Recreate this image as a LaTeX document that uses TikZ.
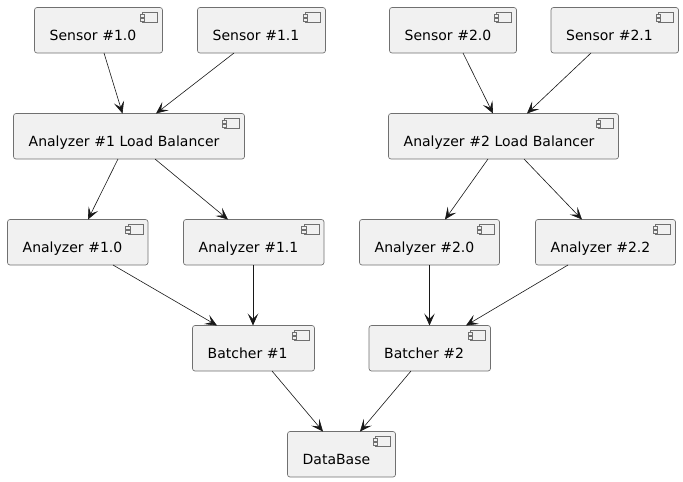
\documentclass[tikz,border=0pt]{standalone}
\usepackage{fontspec}
\setmainfont{DejaVu Sans}
\usetikzlibrary{arrows.meta,calc}
\definecolor{boxfill}{HTML}{F1F1F1}
\definecolor{linecol}{HTML}{181818}
\tikzset{
  compbox/.style={draw=linecol!62!white,fill=boxfill,line width=0.65pt,rounded corners=2.5pt,
    inner xsep=15.2pt,inner ysep=0pt,outer sep=0pt,anchor=north west,
    text height=32.5pt,text depth=13pt,
    font=\fontsize{14}{16}\selectfont,text=black},
  iconmain/.style={draw=linecol!62!white,fill=boxfill,line width=0.55pt},
  conn/.style={draw=linecol,line width=0.6pt,-{Stealth[length=12pt,width=10.5pt,inset=5.5pt]}}
}
\newcommand{\comp}[6]{%
  \node[compbox,text width=#4pt-30.4pt] (#1) at (#2,#3) {\mbox{#6}};
  \draw[iconmain] ($(#1.north east)+(-20,5)$) rectangle ($(#1.north east)+(-5,15)$);
  \draw[iconmain] ($(#1.north east)+(-22.5,7)$) rectangle ($(#1.north east)+(-18,9.5)$);
  \draw[iconmain] ($(#1.north east)+(-22.5,11)$) rectangle ($(#1.north east)+(-18,13.5)$);
}
% from node, offset along bottom edge; to node, offset along top edge
\newcommand{\link}[4]{\draw[conn] ($(#1.south west)+(#2,0)$) -- ($(#3.north west)+(#4,0)$);}
\begin{document}
\begin{tikzpicture}[x=1pt,y=-1pt]
\useasboundingbox (0,0) rectangle (683,482);
\fill[white] (0,0) rectangle (683,482);
\comp{sa}{34.5}{7.5}{128}{45.5}{Sensor \#1.0}
\comp{sb}{197.5}{7.5}{128}{45.5}{Sensor \#1.1}
\comp{sc}{389.5}{7.5}{127}{45.5}{Sensor \#2.0}
\comp{sd}{551}{7.5}{127.5}{45.5}{Sensor \#2.1}
\comp{lba}{13.5}{113.5}{231}{45.5}{Analyzer \#1 Load Balancer}
\comp{lbb}{388.5}{113.5}{230}{45.5}{Analyzer \#2 Load Balancer}
\comp{aa}{7.5}{219.5}{140.5}{45.5}{Analyzer \#1.0}
\comp{ab}{183.5}{219.5}{140.5}{45.5}{Analyzer \#1.1}
\comp{ac}{359.5}{219.5}{140}{45.5}{Analyzer \#2.0}
\comp{ad}{535.5}{219.5}{140}{45.5}{Analyzer \#2.2}
\comp{ba}{192.5}{325.5}{122}{45.5}{Batcher \#1}
\comp{bb}{369}{325.5}{121.5}{45.5}{Batcher \#2}
\comp{db}{287.5}{431.5}{108}{45.5}{DataBase}
\link{sa}{69.5}{lba}{109}
\link{sb}{36.5}{lba}{142.5}
\link{sc}{73.5}{lbb}{104.5}
\link{sd}{40}{lbb}{138.5}
\link{lba}{104.5}{aa}{80.5}
\link{lba}{141.5}{ab}{44.5}
\link{lbb}{99.5}{ac}{85.5}
\link{lbb}{135.5}{ad}{46.5}
\link{aa}{105.5}{ba}{24.5}
\link{ab}{69.5}{ba}{60.5}
\link{ac}{70}{bb}{60.5}
\link{ad}{32.5}{bb}{97}
\link{ba}{79.5}{db}{35.5}
\link{bb}{42}{db}{72.5}
\end{tikzpicture}
\end{document}
